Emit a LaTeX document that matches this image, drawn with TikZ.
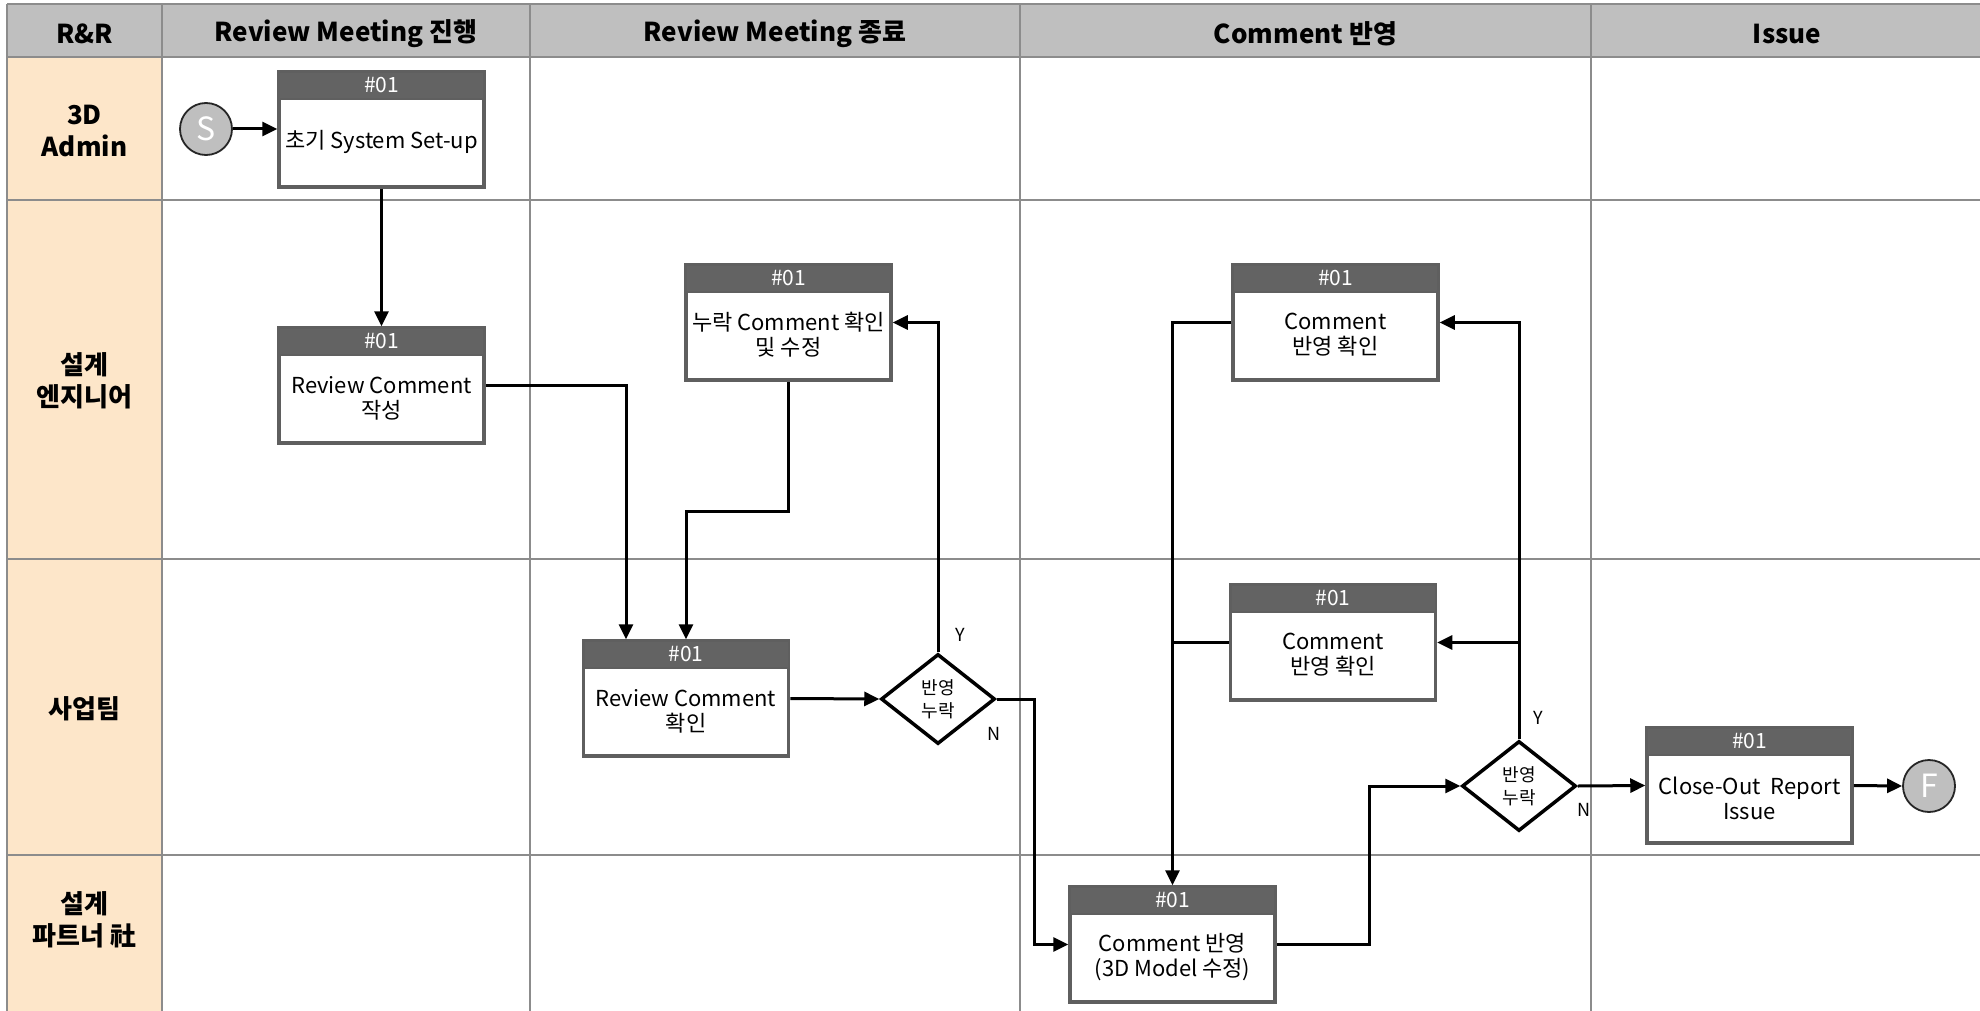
\documentclass[tikz,border=0pt]{standalone}
\usepackage{fontspec}
\setmainfont{Noto Sans CJK KR}
\usetikzlibrary{arrows.meta,shapes.geometric}
\definecolor{hdrgray}{HTML}{BFBFBF}
\definecolor{peach}{HTML}{FDE6C9}
\definecolor{gridgray}{HTML}{8C8C8C}
\definecolor{boxgray}{HTML}{5F5F5F}
\definecolor{stripgray}{HTML}{636363}
\newcommand{\pbox}[4]{%
  \node[pbody] (#1) at (#2,#3+57.5) {};
  \node[pstrip] (#1h) at (#2,#3+13.5) {\#01};
  \node[ptext] (#1t) at (#2,#3+70) {#4};
}
\begin{document}
\begin{tikzpicture}[x=1pt,y=-1pt,
  gridline/.style={draw=gridgray,line width=1.5pt},
  pbody/.style={draw=boxgray,fill=white,line width=3.5pt,minimum width=205pt,minimum height=115pt,inner sep=0pt},
  pstrip/.style={draw=boxgray,fill=stripgray,line width=2pt,minimum width=205pt,minimum height=27pt,inner sep=0pt,text=white,font=\fontsize{21}{21}\selectfont},
  ptext/.style={align=center,font=\fontsize{22}{25}\selectfont,inner sep=0pt},
  dec/.style={diamond,draw=black,line width=3.5pt,fill=white,minimum width=114pt,minimum height=90pt,inner sep=0pt},
  dtext/.style={align=center,font=\fontsize{18}{23}\selectfont,inner sep=0pt},
  term/.style={circle,draw=black!85,line width=1.8pt,fill=hdrgray,minimum size=52pt,inner sep=0pt,text=white,font=\fontsize{32}{32}\selectfont},
  conn/.style={line width=3pt,draw=black},
  arr/.style={conn,-{Triangle[length=15pt,width=14pt]}},
  hdr/.style={font=\fontsize{26}{30}\selectfont\bfseries},
  lane/.style={align=center,font=\fontsize{26}{32}\selectfont\bfseries},
  yn/.style={font=\fontsize{18}{18}\selectfont}
]
\useasboundingbox (0,0) rectangle (1980,1011);
\clip (0,0) rectangle (1980,1011);
\fill[white] (0,0) rectangle (1980,1011);
% table
\fill[hdrgray] (7,4) rectangle (1995,57);
\fill[peach] (7,57) rectangle (162,1020);
\foreach \y in {4,57,200,559,855} \draw[gridline] (7,\y) -- (1995,\y);
\foreach \x in {7,162,530,1020,1591} \draw[gridline] (\x,4) -- (\x,1020);
% headers
\node[hdr] (h0) at (84.5,34) {R\&R};
\node[hdr] (h1) at (346,34) {Review Meeting 진행};
\node[hdr] (h2) at (775,34) {Review Meeting 종료};
\node[hdr] (h3) at (1305.5,34) {Comment 반영};
\node[hdr] (h4) at (1787,34) {Issue};
% lanes
\node[lane] (l1) at (84.5,131) {3D\\Admin};
\node[lane] (l2) at (84.5,381) {설계\\엔지니어};
\node[lane] (l3) at (84.5,709) {사업팀};
\node[lane] (l4) at (84.5,920) {설계\\파트너 社};
% boxes
\pbox{b1}{381.5}{72}{초기 System Set-up}
\pbox{b2}{381.5}{328}{Review Comment\\작성}
\pbox{b3}{788.5}{265}{누락 Comment 확인\\및 수정}
\pbox{b4}{686}{641}{Review Comment\\확인}
\pbox{b5}{1335.5}{265}{Comment\\반영 확인}
\pbox{b6}{1333}{585}{Comment\\반영 확인}
\pbox{b7}{1749.5}{728}{Close-Out\ \ Report\\Issue}
\pbox{b8}{1172.5}{887}{Comment 반영\\(3D Model 수정)}
% decisions
\node[dec] (d1) at (938,699) {};
\node[dtext] (d1t) at (938,699) {반영\\누락};
\node[dec] (d2) at (1519,786) {};
\node[dtext] (d2t) at (1519,786) {반영\\누락};
% terminals
\node[term] (s) at (206,129) {S};
\node[term] (f) at (1929,786) {F};
% connectors
\draw[arr] (s.east) -- (s.east -| b1.west);
\draw[arr] (b1.south) -- (b2.north);
\draw[arr] (b2.east) -| ([xshift=-60pt]b4.north);
\draw[arr] (b3.south) -- ++(0,130) -| (b4.north);
\draw[arr] (b4.east) -- (d1.west);
\draw[arr] (d1.north) |- (b3.east);
\draw[arr] (d1.east) -- ++(38,0) |- (b8.west);
\draw[arr] (b5.west) -| (b8.north);
\draw[conn] (b6.west) -- (b6.west -| b8.north);
\draw[arr] (d2.north) |- (b5.east);
\draw[arr] (d2.north |- b6.east) -- (b6.east);
\draw[arr] (b8.east) -- ++(93,0) |- (d2.west);
\draw[arr] (d2.east) -- (b7.west);
\draw[arr] (b7.east) -- (f.west);
% labels
\node[yn] (y1) at (960,635) {Y};
\node[yn] (n1) at (994,734) {N};
\node[yn] (y2) at (1538,718) {Y};
\node[yn] (n2) at (1584,810) {N};
\end{tikzpicture}
\end{document}
